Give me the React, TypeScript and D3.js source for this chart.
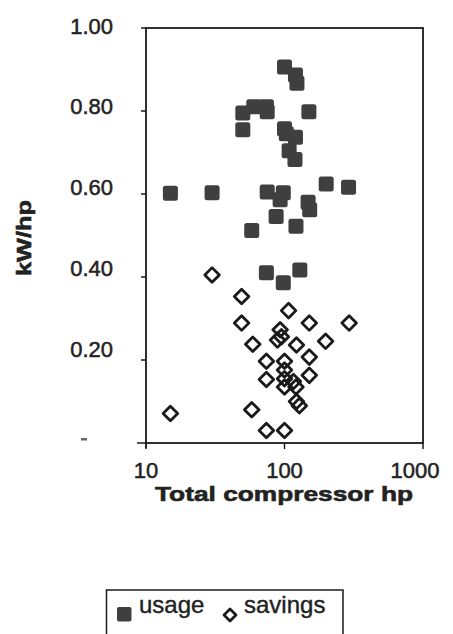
import React from "react";
import * as d3 from "d3";

// ---- data ----
const usageHp = [100, 120, 123, 50, 60, 74, 75, 150, 50, 100, 103, 120, 108, 119, 15, 30, 75, 98, 200, 290, 93, 148, 152, 87, 121, 58, 74, 98, 129];
const usageKw = [0.906, 0.887, 0.867, 0.795, 0.81, 0.81, 0.798, 0.798, 0.755, 0.757, 0.745, 0.737, 0.704, 0.683, 0.602, 0.603, 0.605, 0.603, 0.624, 0.616, 0.586, 0.58, 0.562, 0.546, 0.522, 0.512, 0.41, 0.386, 0.417];

const savingsHp = [30, 49, 107, 49, 151, 293, 93, 89, 95, 59, 122, 198, 151, 74, 100, 100, 151, 74, 100, 100, 116, 121, 122, 128, 58, 15, 74, 100];
const savingsKw = [0.405, 0.353, 0.319, 0.289, 0.289, 0.289, 0.273, 0.248, 0.256, 0.238, 0.236, 0.245, 0.207, 0.197, 0.197, 0.176, 0.163, 0.153, 0.155, 0.135, 0.148, 0.135, 0.10, 0.09, 0.080, 0.071, 0.03, 0.03];

const xTicks = [10, 100, 1000];
const xTickLabels = ["10", "100", "1000"];
const yTicks = [0, 0.2, 0.4, 0.6, 0.8, 1.0];
const yTickLabels = ["", "0.20", "0.40", "0.60", "0.80", "1.00"];
const seriesNames = ["usage", "savings"];

const W = 453;
const H = 634;
const L = 146, R = 423, T = 28, B = 443;

export default function App() {
  const x = d3.scaleLog().domain([10, 1000]).range([L, R]);
  const y = d3.scaleLinear().domain([0, 1]).range([B, T]);
  const yLab = d3.scaleLinear().domain([0, 1]).range([430, 26]);

  const axisColor = "#1a1a1a";
  const sq = 15;
  const dh = 7.3;
  const font = "'Liberation Sans', Arial, sans-serif";
  const ink = "#222";

  const usage = usageHp.map((h, i) => ({ h, k: usageKw[i] }));
  const savings = savingsHp.map((h, i) => ({ h, k: savingsKw[i] }));

  const diamond = (cx: number, cy: number, r: number) =>
    `M${cx},${cy - r}L${cx + r},${cy}L${cx},${cy + r}L${cx - r},${cy}Z`;

  return (
    <svg width={W} height={H} style={{ position: "absolute", left: 0, top: 0, background: "#fff" }}>
      {/* frame */}
      <rect x={L} y={T} width={R - L} height={B - T} fill="none" stroke={axisColor} strokeWidth={1.8} />
      {/* y ticks */}
      {yTicks.map((t, i) => (
        <line key={"yt" + i} x1={L - (t === 0 ? 9 : 5)} x2={L} y1={y(t)} y2={y(t)} stroke={axisColor} strokeWidth={1.5} />
      ))}
      <line x1={L} x2={L} y1={B} y2={B + 5} stroke={axisColor} strokeWidth={1.5} />
      {/* x ticks */}
      {xTicks.map((t, i) => (
        <line key={"xt" + i} x1={x(t)} x2={x(t)} y1={B} y2={B + 6} stroke={axisColor} strokeWidth={1.5} />
      ))}
      {/* y tick labels */}
      {yTicks.map((t, i) => (
        <text key={"yl" + i} x={113} y={yLab(t)} textAnchor="end" dominantBaseline="central"
          fontFamily={font} fontSize={22} fill={ink} stroke={ink} strokeWidth={0.5}>{yTickLabels[i]}</text>
      ))}
      <rect x={81} y={y(0) - 5} width={6} height={2.5} fill="#666" />
      {/* x tick labels */}
      {xTicks.map((t, i) => (
        <text key={"xl" + i} x={x(t) - (t === 1000 ? 8 : 0)} y={470} textAnchor="middle" dominantBaseline="central"
          fontFamily={font} fontSize={22} fill={ink} stroke={ink} strokeWidth={0.5}>{xTickLabels[i]}</text>
      ))}
      {/* axis titles */}
      <text x={284} y={501} textAnchor="middle" fontFamily={font} fontSize={21} fontWeight="bold"
        fill={ink} stroke={ink} strokeWidth={0.6} textLength={258} lengthAdjust="spacingAndGlyphs">Total compressor hp</text>
      <text transform="translate(31,238) rotate(-90)" textAnchor="middle" fontFamily={font} fontSize={21}
        fontWeight="bold" fill={ink} stroke={ink} strokeWidth={0.6} textLength={76} lengthAdjust="spacingAndGlyphs">kW/hp</text>

      {/* usage squares */}
      {usage.map((d, i) => (
        <rect key={"u" + i} x={x(d.h) - sq / 2} y={y(d.k) - sq / 2} width={sq} height={sq} rx={2.5}
          fill="#3f3f3f" />
      ))}
      {/* savings diamonds */}
      {savings.map((d, i) => (
        <path key={"s" + i} d={diamond(x(d.h), y(d.k), dh)} fill="none" stroke="#1a1a1a" strokeWidth={2.8}
          strokeLinejoin="round" />
      ))}

      {/* legend */}
      <rect x={106.5} y={590} width={236.5} height={60} fill="none" stroke={axisColor} strokeWidth={1.5} />
      <rect x={117} y={607} width={14.5} height={14.5} rx={2} fill="#3f3f3f" />
      <text x={139} y={613} fontFamily={font} fontSize={24} fill={ink} stroke={ink} strokeWidth={0.4}>{seriesNames[0]}</text>
      <path d={diamond(230, 615, 6)} fill="none" stroke="#1a1a1a" strokeWidth={2.8} strokeLinejoin="round" />
      <text x={244} y={613} fontFamily={font} fontSize={24} fill={ink} stroke={ink} strokeWidth={0.4}>{seriesNames[1]}</text>
    </svg>
  );
}
